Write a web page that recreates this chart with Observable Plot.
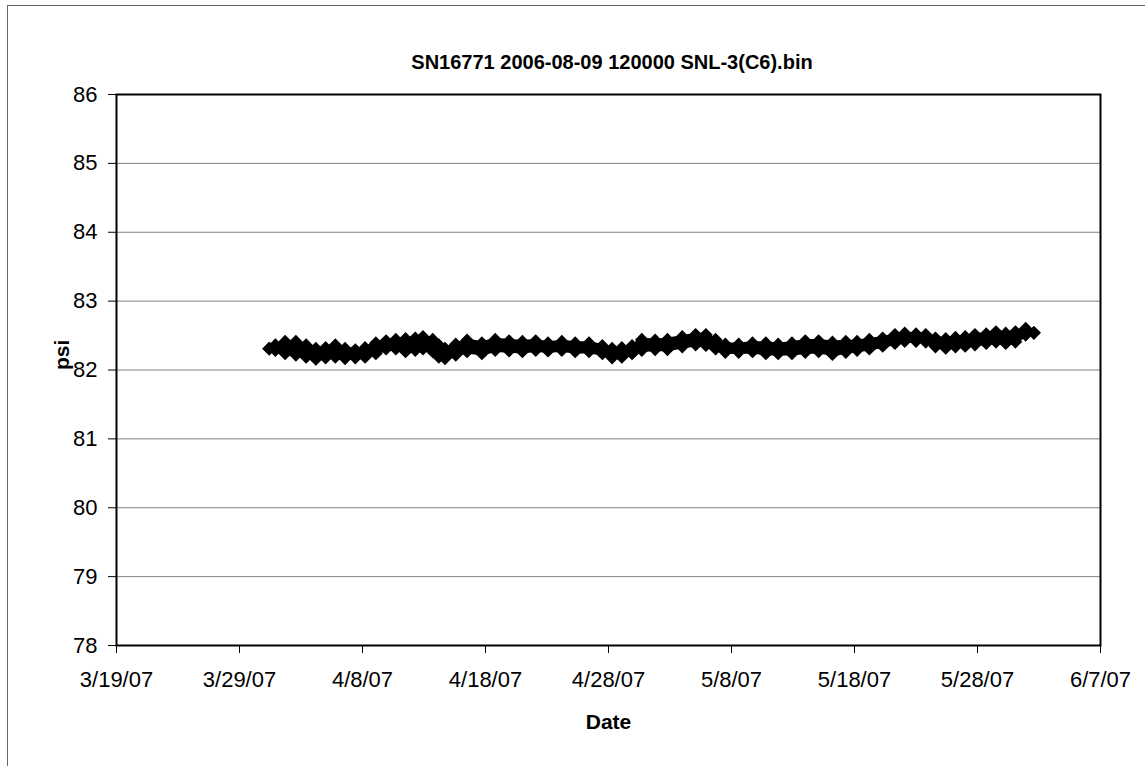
<!DOCTYPE html>
<html>
<head>
<meta charset="utf-8">
<script src="https://cdn.jsdelivr.net/npm/d3@7"></script>
<script src="https://cdn.jsdelivr.net/npm/@observablehq/plot@0.6"></script>
<style>
  html, body { margin: 0; padding: 0; background: #fff; }
  #wrap { position: relative; width: 1145px; height: 766px; overflow: hidden; background: #fff;
          font-family: "Liberation Sans", Arial, Helvetica, sans-serif; }
  #border { position: absolute; left: 7px; top: 5px; width: 1150px; height: 770px;
            border-left: 1px solid #666; border-top: 1px solid #666; }
  #title { position: absolute; left: 116px; width: 992px; top: 50px; line-height: 24px;
           text-align: center; font-size: 20px; font-weight: bold; color: #000; }
  #chart { position: absolute; left: 0; top: 0; }
</style>
</head>
<body>
<div id="wrap">
  <div id="border"></div>
  <div id="chart"></div>
  <div id="title">SN16771 2006-08-09 120000 SNL-3(C6).bin</div>
</div>
<script>
// ---- data ----
const titleText = "SN16771 2006-08-09 120000 SNL-3(C6).bin";
const xLabel = "Date";
const yLabel = "psi";
const yTicks = [78, 79, 80, 81, 82, 83, 84, 85, 86];
const xTickDates = ["2007-03-19", "2007-03-29", "2007-04-08", "2007-04-18", "2007-04-28",
                    "2007-05-08", "2007-05-18", "2007-05-28", "2007-06-07"];

// reading times (2007) and the top / bottom of the thick marker band (psi)
const readTimes = [
  "03-31T10","03-31T22","04-01T17","04-02T14","04-03T10","04-04T05","04-05T00","04-05T19",
  "04-06T14","04-07T10","04-08T05","04-09T02","04-09T22","04-10T17","04-11T12","04-12T07",
  "04-12T22","04-13T17","04-14T05","04-14T17","04-15T14","04-16T12","04-17T17","04-18T19",
  "04-19T22","04-21T00","04-22T02","04-23T02","04-24T05","04-25T07","04-26T10","04-27T12",
  "04-28T07","04-29T02","04-29T22","04-30T17","05-01T19","05-02T19","05-04T00","05-05T02",
  "05-05T22","05-06T17","05-07T12","05-08T14","05-09T17","05-10T19","05-11T19","05-12T22",
  "05-14T00","05-15T02","05-16T05","05-17T07","05-18T05","05-19T05","05-20T07","05-21T07",
  "05-22T02","05-23T00","05-23T19","05-24T14","05-25T10","05-26T05","05-27T00","05-27T19",
  "05-28T17","05-29T12","05-30T07","05-31T02","05-31T22","06-01T14"
];
const hiPsi = [
  82.31,82.36,82.41,82.41,82.36,82.31,82.32,82.36,
  82.31,82.29,82.32,82.39,82.42,82.44,82.45,82.46,
  82.48,82.44,82.36,82.31,82.37,82.43,82.39,82.44,
  82.42,82.41,82.42,82.39,82.41,82.39,82.39,82.35,
  82.31,82.32,82.35,82.44,82.43,82.44,82.48,82.51,
  82.51,82.44,82.37,82.37,82.39,82.39,82.37,82.39,
  82.42,82.42,82.40,82.41,82.41,82.44,82.46,82.51,
  82.53,82.52,82.51,82.46,82.45,82.47,82.48,82.51,
  82.52,82.55,82.53,82.55,82.60,82.54
];
const loPsi = [
  82.31,82.29,82.24,82.22,82.19,82.16,82.18,82.19,
  82.17,82.18,82.19,82.24,82.31,82.31,82.27,82.29,
  82.31,82.27,82.19,82.17,82.22,82.27,82.24,82.29,
  82.28,82.27,82.29,82.28,82.29,82.27,82.27,82.24,
  82.18,82.19,82.24,82.29,82.30,82.30,82.34,82.37,
  82.36,82.31,82.26,82.26,82.27,82.24,82.24,82.24,
  82.26,82.27,82.23,82.26,82.29,82.31,82.35,82.39,
  82.42,82.42,82.41,82.34,82.32,82.34,82.35,82.37,
  82.39,82.41,82.39,82.41,82.51,82.54
];

// ---- build table ----
const parseT = s => new Date("2007-" + s + ":00:00Z");
const rows = readTimes.map((t, i) => ({date: parseT(t), hi: hiPsi[i], lo: loPsi[i]}));
const pts = rows.flatMap(r => [{date: r.date, psi: r.hi}, {date: r.date, psi: r.lo}]);
const xTicks = xTickDates.map(s => new Date(s + "T00:00:00Z"));
const fmt = d => `${d.getUTCMonth() + 1}/${d.getUTCDate()}/${String(d.getUTCFullYear()).slice(2)}`;

const chart = Plot.plot({
  width: 1145,
  height: 766,
  marginLeft: 116,
  marginRight: 45,
  marginTop: 94,
  marginBottom: 121,
  style: {fontFamily: '"Liberation Sans", Arial, sans-serif', fontSize: "22px", color: "#000", background: "transparent"},
  x: {type: "utc", domain: [xTicks[0], xTicks[xTicks.length - 1]]},
  y: {domain: [yTicks[0], yTicks[yTicks.length - 1]]},
  marks: [
    Plot.gridY(yTicks.slice(1, -1), {stroke: "#808080", strokeOpacity: 1, strokeWidth: 1}),
    Plot.areaY(rows, {x: "date", y1: "lo", y2: "hi", fill: "#000"}),
    Plot.line(rows, {x: "date", y: "hi", stroke: "#000", strokeWidth: 4}),
    Plot.line(rows, {x: "date", y: "lo", stroke: "#000", strokeWidth: 4}),
    Plot.dot(pts, {x: "date", y: "psi", symbol: "square", rotate: 45, r: 5.5, fill: "#000", stroke: "none"}),
    Plot.frame({stroke: "#000", strokeWidth: 2}),
    Plot.axisY({ticks: yTicks, tickSize: 8, tickPadding: 11, label: null, stroke: "#000", strokeWidth: 1}),
    Plot.axisX({ticks: xTicks, tickFormat: fmt, tickSize: 8, tickPadding: 18, label: null, stroke: "#000"}),
    Plot.text([yLabel], {text: d => d, frameAnchor: "left", dx: -54, rotate: -90, fontWeight: "bold", fontSize: 21, fill: "#000"}),
    Plot.text([xLabel], {text: d => d, frameAnchor: "bottom", dy: 77, lineAnchor: "middle", fontWeight: "bold", fontSize: 21, fill: "#000"})
  ]
});
document.getElementById("chart").appendChild(chart);
document.getElementById("title").textContent = titleText;
</script>
</body>
</html>
